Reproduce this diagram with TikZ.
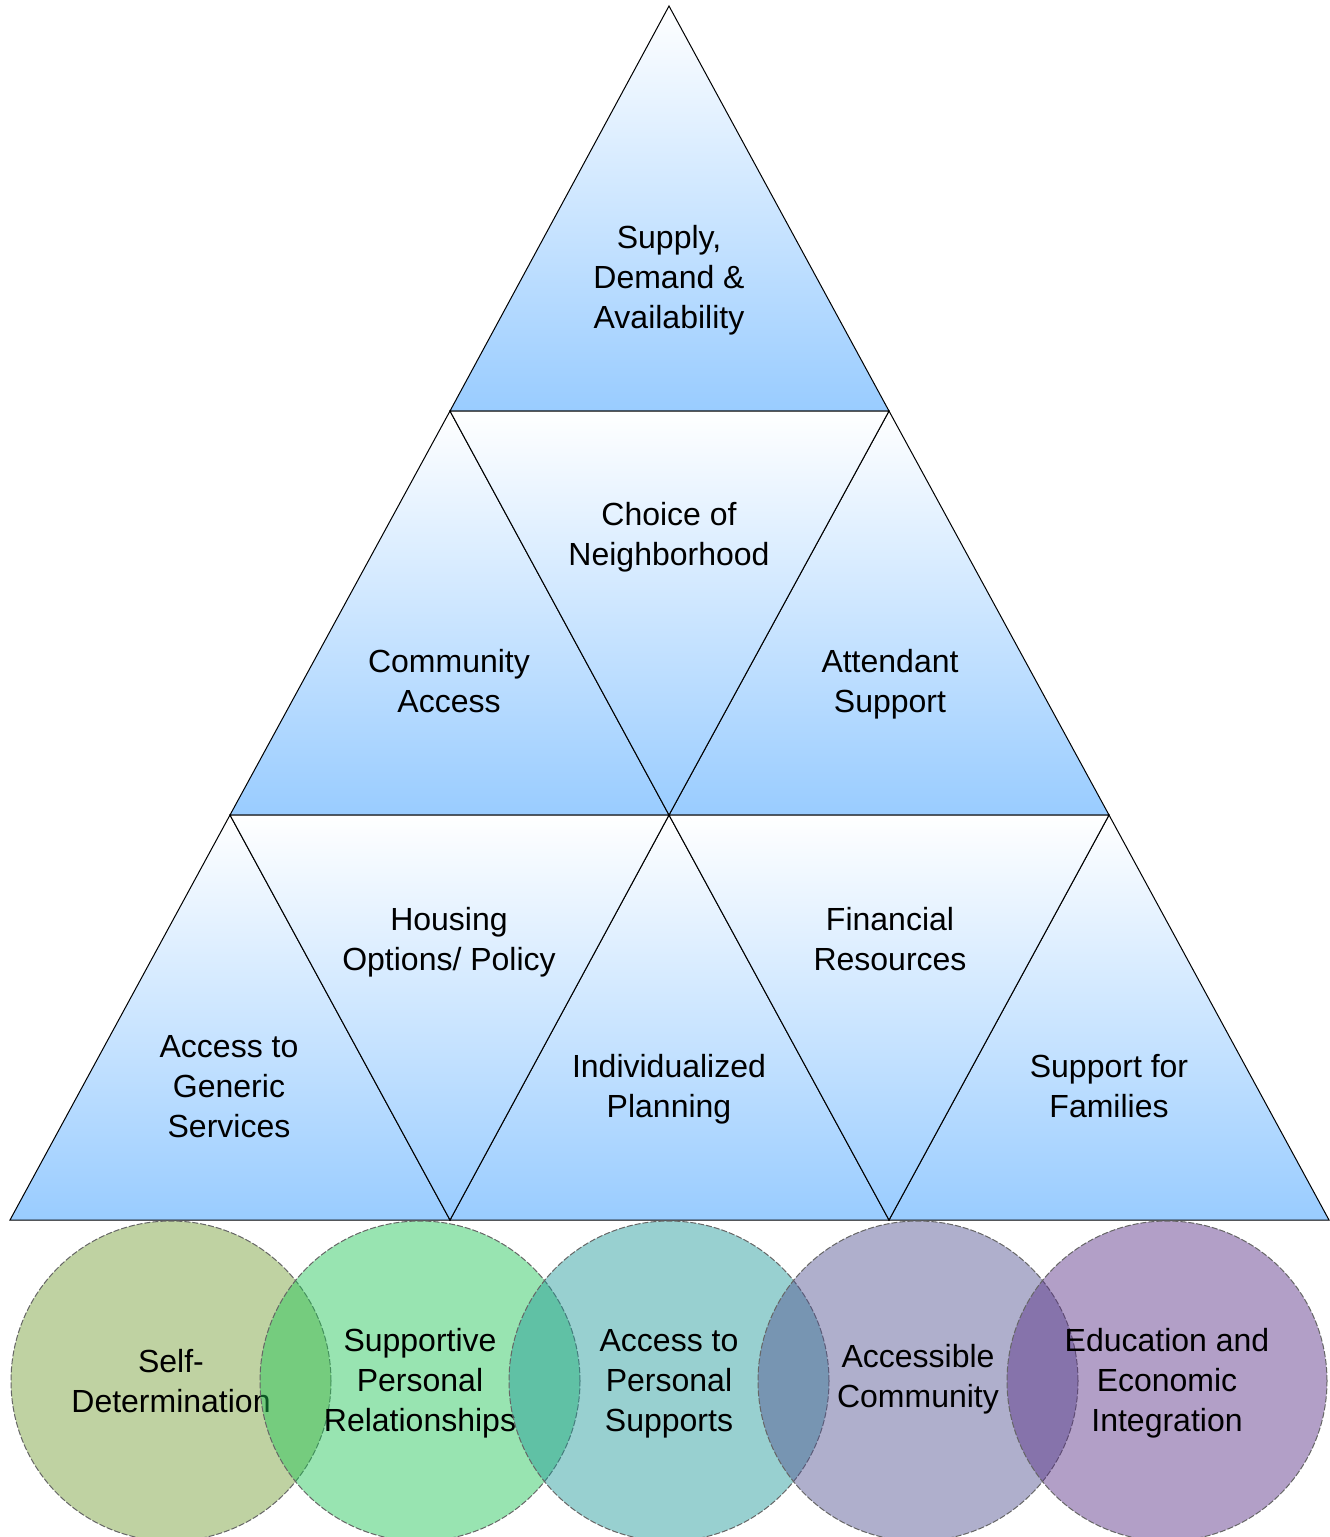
\documentclass[tikz,border=0pt]{standalone}
\usepackage{fontspec}
\setmainfont{Liberation Sans}
\definecolor{triblue}{RGB}{153,204,255}
\definecolor{cA}{RGB}{115,157,50}
\definecolor{cB}{RGB}{28,197,84}
\definecolor{cC}{RGB}{28,151,151}
\definecolor{cD}{RGB}{79,79,142}
\definecolor{cE}{RGB}{86,44,133}
\begin{document}
\begin{tikzpicture}[x=1pt,y=-1pt,
  tri/.style={draw=black, line width=1pt, line join=miter, top color=white, bottom color=triblue},
  lbl/.style={align=center, font=\fontsize{32}{40}\selectfont, inner sep=0pt, text=black},
  ring/.style={circle, minimum size=320pt, inner sep=0pt, fill opacity=0.45,
    draw=black!60, draw opacity=1, line width=1pt, dash pattern=on 6pt off 2pt}]
\useasboundingbox (0,0) rectangle (1330,1537);
\fill[white] (0,0) rectangle (1330,1537);

% corner points of the pyramid
\coordinate (A) at (669,6);
\coordinate (P1) at (450,411);
\coordinate (P2) at (889,411);
\coordinate (Q1) at (230,815);
\coordinate (Q2) at (669,815);
\coordinate (Q3) at (1109,815);
\coordinate (R1) at (10,1220);
\coordinate (R2) at (450,1220);
\coordinate (R3) at (889,1220);
\coordinate (R4) at (1329,1220);

% upward triangles
\path[tri] (A) -- (P1) -- (P2) -- cycle;
\path[tri] (P1) -- (Q1) -- (Q2) -- cycle;
\path[tri] (P2) -- (Q2) -- (Q3) -- cycle;
\path[tri] (Q1) -- (R1) -- (R2) -- cycle;
\path[tri] (Q2) -- (R2) -- (R3) -- cycle;
\path[tri] (Q3) -- (R3) -- (R4) -- cycle;
% downward triangles
\path[tri] (P1) -- (P2) -- (Q2) -- cycle;
\path[tri] (Q1) -- (Q2) -- (R2) -- cycle;
\path[tri] (Q2) -- (Q3) -- (R3) -- cycle;

% triangle labels
\node[lbl] (supply) at (669,280) {Supply,\\Demand \&\\Availability};
\node[lbl] (choice) at (669,537) {Choice of\\Neighborhood};
\node[lbl] (community) at (449,681) {Community\\Access};
\node[lbl] (attendant) at (890,684) {Attendant\\Support};
\node[lbl] (housing) at (449,942) {Housing\\Options/ Policy};
\node[lbl] (financial) at (890,939) {Financial\\Resources};
\node[lbl] (generic) at (229,1087) {Access to\\Generic\\Services};
\node[lbl] (planning) at (669,1089) {Individualized\\Planning};
\node[lbl] (families) at (1109,1086) {Support for\\Families};

% overlapping circles, each followed by its own label
\node[ring, fill=cA] (selfdet) at (171,1381) {};
\node[lbl] (selfdetText) at (171,1381) {Self-\\Determination};
\node[ring, fill=cB] (relations) at (420,1381) {};
\node[lbl] (relationsText) at (420,1383) {Supportive\\Personal\\Relationships};
\node[ring, fill=cC] (supports) at (669,1381) {};
\node[lbl] (supportsText) at (669,1384) {Access to\\Personal\\Supports};
\node[ring, fill=cD] (accessible) at (918,1381) {};
\node[lbl] (accessibleText) at (918,1379) {Accessible\\Community};
\node[ring, fill=cE] (education) at (1167,1381) {};
\node[lbl] (educationText) at (1167,1383) {Education and\\Economic\\Integration};
\end{tikzpicture}
\end{document}
